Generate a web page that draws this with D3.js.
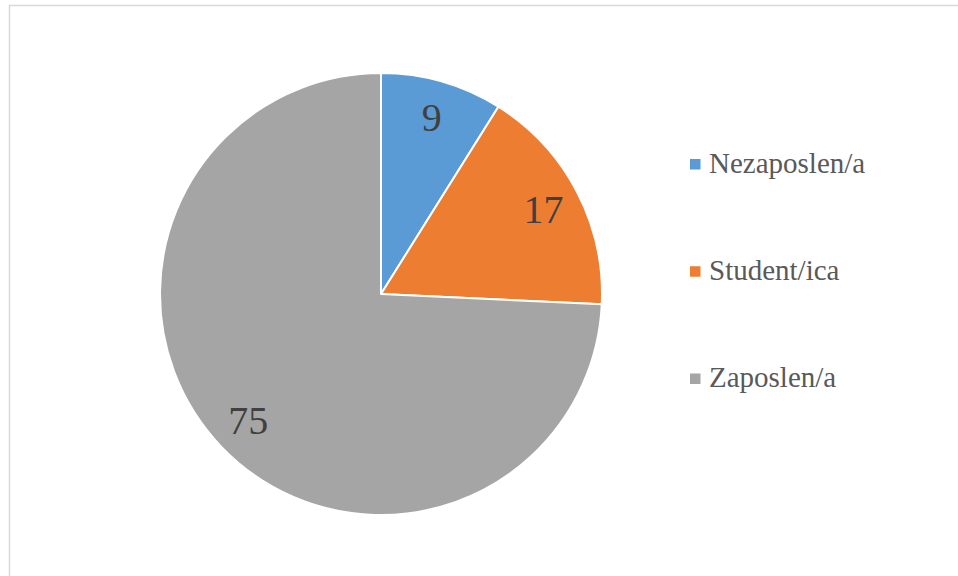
<!DOCTYPE html>
<html>
<head>
<script src="https://cdn.jsdelivr.net/npm/d3@7"></script>
</head>
<body style="margin:0">
<div id="container"></div>
<script>
var width = 958,
    height = 576,
    cx = 381,
    cy = 294,
    radius = 221;

var categories = ['Nezaposlen/a', 'Student/ica', 'Zaposlen/a'];
var values = [9, 17, 75];
var colors = ['#5b9bd5', '#ed7d31', '#a5a5a5'];

var data = categories.map(function(c, i) {
    return { name: c, value: values[i] };
});

var svg = d3.select('#container')
    .append('svg')
    .attr('width', width)
    .attr('height', height)
    .attr('font-family', 'Times New Roman');

// chart area border (runs off the right / bottom)
svg.append('rect')
    .attr('x', 9.5)
    .attr('y', 5.5)
    .attr('width', width + 10)
    .attr('height', height + 10)
    .attr('fill', 'none')
    .attr('stroke', '#d9d9d9')
    .attr('stroke-width', 1.5);

var color = d3.scaleOrdinal()
    .domain(categories)
    .range(colors);

var pie = d3.pie()
    .value(function(d) { return d.value; })
    .sort(null);

var arc = d3.arc()
    .innerRadius(0)
    .outerRadius(radius);

var labelArc = d3.arc()
    .innerRadius(radius * 0.83)
    .outerRadius(radius * 0.83);

var g = svg.append('g')
    .attr('transform', 'translate(' + cx + ',' + cy + ')');

var arcs = pie(data);

g.selectAll('path')
    .data(arcs)
    .enter()
    .append('path')
    .attr('d', arc)
    .attr('fill', function(d) { return color(d.data.name); })
    .attr('stroke', '#fff')
    .attr('stroke-width', 2)
    .attr('stroke-linejoin', 'round');

g.selectAll('text.label')
    .data(arcs)
    .enter()
    .append('text')
    .attr('class', 'label')
    .attr('x', function(d) { return labelArc.centroid(d)[0]; })
    .attr('y', function(d) { return labelArc.centroid(d)[1]; })
    .attr('text-anchor', 'middle')
    .attr('dy', '0.34em')
    .attr('font-family', 'Times New Roman')
    .attr('font-size', 40)
    .attr('fill', '#404040')
    .text(function(d) { return d.data.value; });

// legend
var legendY = d3.scalePoint()
    .domain(categories)
    .range([164.5, 379]);

svg.selectAll('rect.key')
    .data(categories)
    .enter()
    .append('rect')
    .attr('class', 'key')
    .attr('x', 690)
    .attr('y', function(d) { return legendY(d) - 5.5; })
    .attr('width', 10.5)
    .attr('height', 10.5)
    .attr('fill', function(d) { return color(d); });

svg.selectAll('text.key')
    .data(categories)
    .enter()
    .append('text')
    .attr('class', 'key')
    .attr('x', 709)
    .attr('y', function(d) { return legendY(d) + 8; })
    .attr('font-family', 'Times New Roman')
    .attr('font-size', 29)
    .attr('fill', '#595959')
    .text(function(d) { return d; });
</script>
</body>
</html>
